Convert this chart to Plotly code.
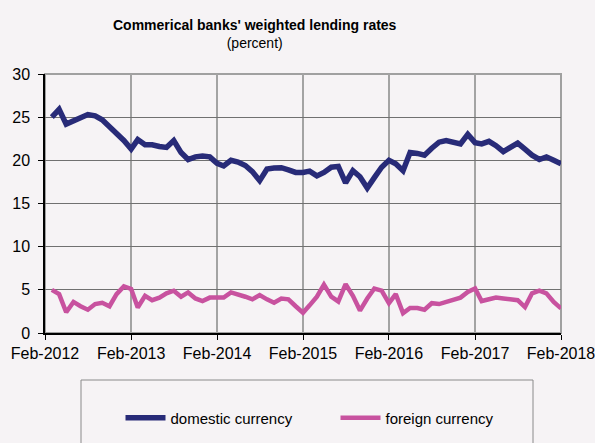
import pandas as pd
import plotly.graph_objects as go

# Monthly data, Mar-2012 .. Feb-2018
dates = pd.date_range("2012-03-01", "2018-02-01", freq="MS")

domestic = [
    25.0, 25.9, 24.2, 24.6, 25.0, 25.3, 25.15, 24.7, 23.9, 23.2, 22.3, 21.3,
    22.4, 21.8, 21.8, 21.6, 21.5, 22.3, 20.9, 20.1, 20.4, 20.5, 20.4, 19.65,
    19.35, 20.0, 19.8, 19.4, 18.7, 17.65, 19.0, 19.1, 19.15, 18.9, 18.6, 18.6,
    18.75, 18.2, 18.6, 19.2, 19.3, 17.4, 18.8, 18.1, 16.8, 18.0, 19.2, 20.0,
    19.6, 18.8, 20.9, 20.8, 20.6, 21.4, 22.1, 22.3, 22.1, 21.9, 23.0, 22.05,
    21.9, 22.2, 21.7, 21.0, 21.5, 22.0, 21.3, 20.6, 20.1, 20.4, 20.0, 19.6,
]

foreign = [
    5.0, 4.5, 2.4, 3.6, 3.1, 2.7, 3.35, 3.5, 3.1, 4.5, 5.4, 5.1,
    2.95, 4.3, 3.8, 4.1, 4.6, 4.9, 4.2, 4.7, 4.0, 3.7, 4.1, 4.1,
    4.1, 4.7, 4.5, 4.2, 3.9, 4.4, 3.9, 3.5, 4.0, 3.9, 3.1, 2.35,
    3.2, 4.2, 5.6, 4.2, 3.65, 5.65, 4.3, 2.6, 4.0, 5.15, 4.9, 3.45,
    4.5, 2.3, 2.9, 2.9, 2.7, 3.45, 3.35, 3.6, 3.9, 4.1, 4.75, 5.15,
    3.7, 3.9, 4.1, 4.0, 3.95, 3.8, 3.0, 4.6, 4.9, 4.6, 3.6, 2.85,
]

tick_dates = pd.date_range("2012-02-01", "2018-02-01", freq="12MS")
tick_labels = ["Feb-2012", "Feb-2013", "Feb-2014", "Feb-2015",
               "Feb-2016", "Feb-2017", "Feb-2018"]

FONT = "Liberation Sans, Arial, sans-serif"
BG = "#F6F3F5"

fig = go.Figure()
fig.add_trace(go.Scatter(x=dates, y=domestic, mode="lines", name="domestic currency",
                         line=dict(color="#282B78", width=5.5)))
fig.add_trace(go.Scatter(x=dates, y=foreign, mode="lines", name="foreign currency",
                         line=dict(color="#C8529F", width=4.5)))

L, R, T, B = 45, 34, 74, 110
W, H = 595, 443
pw, ph = W - L - R, H - T - B

def px_x(x):
    return (x - L) / pw

def px_y(y):
    return (H - B - y) / ph

fig.update_layout(
    width=W, height=H,
    margin=dict(l=L, r=R, t=T, b=B, autoexpand=False),
    paper_bgcolor=BG, plot_bgcolor=BG,
    font=dict(family=FONT, color="black", size=16),
    showlegend=True,
    legend=dict(orientation="h", x=px_x(120.5), y=px_y(418), xanchor="left", yanchor="middle",
                font=dict(size=15, family=FONT), bgcolor="rgba(0,0,0,0)",
                entrywidth=160, itemwidth=40),
    xaxis=dict(range=[pd.Timestamp("2012-02-01"), pd.Timestamp("2018-02-01")],
               tickvals=tick_dates, ticktext=tick_labels, automargin=False,
               ticklabeloverflow="allow",
               showgrid=True, gridcolor="#A3A3A3", gridwidth=1.5,
               showline=True, linecolor="black", linewidth=1.5,
               ticks="outside", ticklen=5, tickcolor="black",
               tickfont=dict(size=16), zeroline=False),
    yaxis=dict(range=[0, 30], dtick=5, automargin=False,
               ticklabelstandoff=5,
               showgrid=True, gridcolor="#707070", gridwidth=1,
               showline=True, linecolor="black", linewidth=1.5,
               ticks="outside", ticklen=5, tickcolor="black",
               tickfont=dict(size=16), zeroline=False),
    shapes=[
        dict(type="rect", xref="paper", yref="paper", x0=0, x1=1, y0=0, y1=1,
             line=dict(color="#A0A0A0", width=2), layer="below"),
        dict(type="rect", xref="paper", yref="paper",
             x0=px_x(81), x1=px_x(533), y0=px_y(380), y1=px_y(460),
             line=dict(color="#8A8A8A", width=1), fillcolor="rgba(0,0,0,0)"),
    ],
    annotations=[
        dict(text="<b>Commerical banks' weighted lending rates</b><br>(percent)",
             xref="paper", yref="paper", x=px_x(255), y=px_y(34),
             xanchor="center", yanchor="middle", showarrow=False,
             font=dict(size=14, family=FONT, color="black")),
    ],
)

fig.write_html("out.html", config={"displayModeBar": False},
               post_script="document.body.style.margin='0';document.body.style.overflow='hidden';")
